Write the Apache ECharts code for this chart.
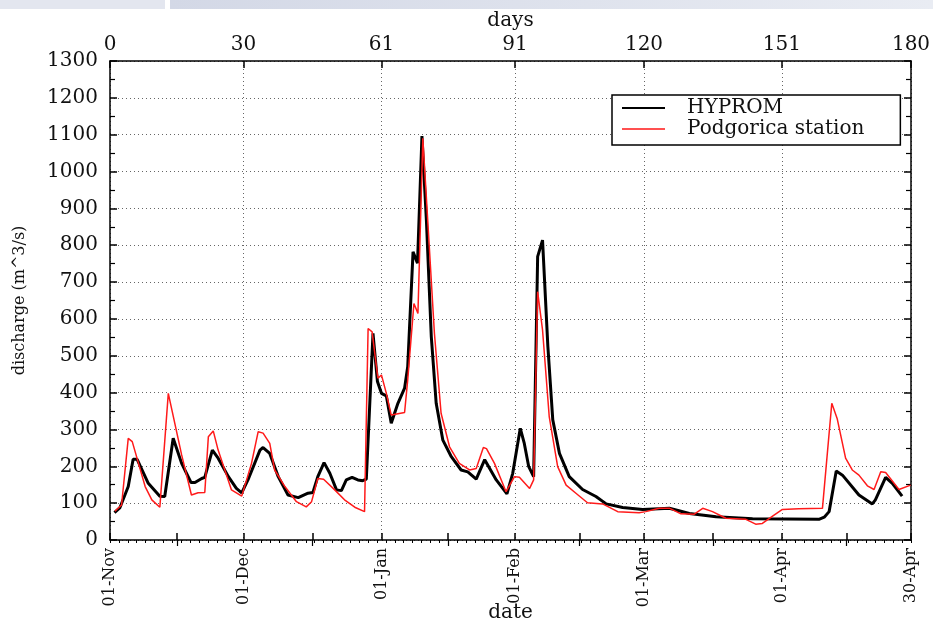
<!DOCTYPE html>
<html>
<head>
<meta charset="utf-8">
<script src="https://cdn.jsdelivr.net/npm/echarts@6/dist/echarts.min.js"></script>
<style>
html, body {margin: 0; padding: 0; background: #fff;}
#chart {width: 933px; height: 627px;}
</style>
</head>
<body>
<div id="chart"></div>
<script>
// day 0 = 01-Nov, discharge in m^3/s
var hypromDays = [1, 2.2, 4.1, 5.2, 6.1, 8.6, 11.2, 12.3, 14.2, 16.1, 18.2, 19.1, 20.6, 21.3, 23, 24.3, 26.6, 28.4, 29.6, 31,
    33.7, 34.4, 35.9, 37.8, 40, 42.3, 44.5, 45.6, 46.7, 48.1, 49.4, 50.9, 52, 53.1, 54.4, 55.7, 56.8, 57.6, 59.1, 60.1,
    61, 62.1, 63.2, 64.7, 66.2, 66.9, 68.1, 69.1, 70.1, 71.1, 72.2, 73.3, 74.8, 76.7, 78.9, 80.4, 82.3, 84.2, 86.8, 89.2,
    90.5, 92.2, 93.1, 94.1, 95.2, 96.1, 97.2, 98.4, 99.5, 101, 103.2, 106.2, 109.2, 111.5, 115.2, 119.7, 125.7, 130.2, 136.2, 144.4,
    151.9, 159.3, 160.5, 161.6, 163.2, 164.6, 168.3, 171.3, 172, 174.3, 175.8, 178];
var hypromValues = [74, 87, 145, 219, 219, 154, 119, 118, 276, 208, 156, 156, 167, 170, 244, 222, 172, 140, 128, 163,
    244, 251, 235, 172, 122, 115, 127, 129, 172, 210, 181, 136, 134, 163, 170, 163, 161, 165, 561, 430,
    398, 391, 317, 371, 412, 470, 782, 751, 1096, 868, 552, 371, 271, 226, 190, 185, 165, 218, 163, 125,
    181, 303, 262, 199, 172, 769, 814, 525, 326, 235, 172, 137, 118, 98, 88, 83, 86, 72, 63, 58,
    57, 56, 62, 77, 187, 176, 122, 98, 109, 170, 154, 119];

var stationDays = [1.1, 2.6, 4.1, 5, 7.9, 9.4, 11.2, 13.1, 16.1, 18.3, 19.8, 21.3, 22.1, 23.2, 24.3, 27.3, 29.6, 31.8, 33.3, 34.4,
    35.9, 37, 39.3, 41.9, 44.1, 45.3, 46.7, 48, 50.5, 52.7, 55, 57.2, 58, 58.9, 60.2, 61, 62.1, 63.2, 66.2, 66.9,
    68.3, 69.2, 70.3, 71.4, 72.9, 74.4, 76.3, 78.5, 80.8, 82.3, 83.9, 84.6, 86.4, 89, 90.9, 92, 94.3, 95.2, 96.1, 97.2,
    98.7, 100.6, 102.5, 104.7, 107.3, 110.7, 114.1, 118.9, 120.4, 123.4, 125.8, 128.3, 131.3, 133.2, 135.4, 138.4, 142.9, 145.1, 146.6, 148.9,
    151.1, 154.8, 160.1, 162.2, 163.4, 165.3, 166.8, 168.3, 170.2, 171.7, 173.2, 174.3, 177.3, 179.9];
var stationValues = [78, 95, 276, 267, 145, 109, 89, 398, 231, 122, 128, 129, 280, 296, 244, 136, 119, 208, 294, 290,
    262, 190, 145, 104, 90, 104, 167, 165, 136, 109, 89, 77, 574, 565, 439, 448, 398, 339, 346, 434,
    642, 615, 1090, 868, 561, 344, 253, 208, 190, 194, 251, 248, 208, 131, 172, 170, 140, 163, 674, 570,
    335, 199, 149, 127, 101, 98, 77, 74, 77, 86, 86, 71, 70, 86, 77, 59, 56, 43, 45, 65,
    83, 85, 86, 371, 330, 222, 190, 176, 147, 137, 185, 183, 137, 149];

var dayTicks = [0, 30, 61, 91, 120, 151, 180];
var dateLabels = ['01-Nov', '01-Dec', '01-Jan', '01-Feb', '01-Mar', '01-Apr', '30-Apr'];
var midTicks = [15, 45.5, 76, 105.5, 135.5, 165.5];

function pairs (days, values){
    return days.map(function (d, i){
        return [d, values[i]];
    });
}

var font = 'DejaVu Serif';
var frame = {show: true, onZero: false, lineStyle: {color: '#000', width: 1.5}};
var dotted = {show: true, lineStyle: {color: '#666', width: 1, type: [1, 3]}};

var chart = echarts.init(document.getElementById('chart'));
chart.setOption({
    animation: false,
    backgroundColor: '#fff',
    graphic: [
        {type: 'rect', left: 0, top: 0, shape: {width: 165, height: 9}, style: {fill: '#e3e6ef'}, silent: true},
        {type: 'rect', left: 170, top: 0, shape: {width: 763, height: 9},
            style: {fill: new echarts.graphic.LinearGradient(0, 0, 1, 0, [{offset: 0, color: '#d3d8e6'}, {offset: 1, color: '#e9ecf3'}])}, silent: true}
    ],
    grid: {left: 110, right: 22, top: 61, bottom: 87, containLabel: false, outerBoundsMode: 'none'},
    legend: {
        left: 612, top: 95,
        orient: 'vertical',
        padding: [3, 36, 6, 10],
        itemGap: 1,
        itemWidth: 43,
        itemHeight: 2,
        borderColor: '#000',
        borderWidth: 1.5,
        backgroundColor: '#fff',
        textStyle: {fontFamily: font, fontSize: 20, color: '#111', padding: [0, 0, 0, 17], lineHeight: 20},
        data: [
            {name: 'HYPROM', icon: 'rect', itemStyle: {color: '#000'}},
            {name: 'Podgorica station', icon: 'rect', itemStyle: {color: '#ff5050'}}
        ]
    },
    xAxis: [
        {
            type: 'value', position: 'bottom', min: 0, max: 180,
            name: 'date', nameLocation: 'middle', nameGap: 63, nameMoveOverlap: false,
            nameTextStyle: {fontFamily: font, fontSize: 20, color: '#111'},
            axisLine: frame,
            axisTick: {show: true, inside: true, length: 7, lineStyle: {color: '#000', width: 1.5},
                customValues: dayTicks.concat(midTicks).sort(function (a, b){ return a - b; })},
            axisLabel: {show: true, rotate: 90, margin: 8, fontFamily: font, fontSize: 16, color: '#111',
                customValues: dayTicks,
                formatter: function (v){ return dateLabels[dayTicks.indexOf(v)]; }},
            splitLine: {show: false}
        },
        {
            type: 'value', position: 'top', min: 0, max: 180,
            name: 'days', nameLocation: 'middle', nameGap: 30, nameMoveOverlap: false,
            nameTextStyle: {fontFamily: font, fontSize: 20, color: '#111'},
            axisLine: frame,
            axisTick: {show: true, inside: true, length: 7, lineStyle: {color: '#000', width: 1.5}, customValues: dayTicks},
            axisLabel: {show: true, margin: 6, fontFamily: font, fontSize: 20, color: '#111', customValues: dayTicks},
            splitLine: dotted
        },
        {
            // medium ticks half way between the labelled days
            type: 'value', position: 'top', min: 0, max: 180,
            axisLine: {show: false},
            axisTick: {show: true, inside: true, length: 6, lineStyle: {color: '#000', width: 1.2}, customValues: midTicks},
            axisLabel: {show: false},
            splitLine: {show: false}
        },
        {
            // small ticks along the top
            type: 'value', position: 'top', min: 0, max: 180, interval: 2,
            axisLine: {show: false},
            axisTick: {show: true, inside: true, length: 3, lineStyle: {color: '#000', width: 1}},
            axisLabel: {show: false},
            splitLine: {show: false}
        }
    ],
    yAxis: [
        {
            type: 'value', position: 'left', min: 0, max: 1300, interval: 100,
            name: 'discharge (m^3/s)', nameLocation: 'middle', nameGap: 82, nameMoveOverlap: false,
            nameTextStyle: {fontFamily: font, fontSize: 16, color: '#111'},
            axisLine: frame,
            axisTick: {show: true, inside: true, length: 7, lineStyle: {color: '#000', width: 1.5}},
            minorTick: {show: true, splitNumber: 2, length: 5, lineStyle: {color: '#000', width: 1.2}},
            axisLabel: {margin: 12, fontFamily: font, fontSize: 20, color: '#111',
                formatter: function (v){ return String(v); }},
            splitLine: dotted
        },
        {
            type: 'value', position: 'right', min: 0, max: 1300, interval: 100,
            axisLine: frame,
            axisTick: {show: true, inside: true, length: 7, lineStyle: {color: '#000', width: 1.5}},
            minorTick: {show: true, splitNumber: 2, length: 5, lineStyle: {color: '#000', width: 1.2}},
            axisLabel: {show: false},
            splitLine: {show: false}
        }
    ],
    series: [
        {
            name: 'HYPROM', type: 'line', xAxisIndex: 0, yAxisIndex: 0,
            symbol: 'none', smooth: false,
            lineStyle: {color: '#000', width: 3},
            itemStyle: {color: '#000'},
            data: pairs(hypromDays, hypromValues)
        },
        {
            name: 'Podgorica station', type: 'line', xAxisIndex: 0, yAxisIndex: 0,
            symbol: 'none', smooth: false,
            lineStyle: {color: '#ff1a1a', width: 1.5},
            itemStyle: {color: '#ff1a1a'},
            data: pairs(stationDays, stationValues)
        }
    ]
});
</script>
</body>
</html>
